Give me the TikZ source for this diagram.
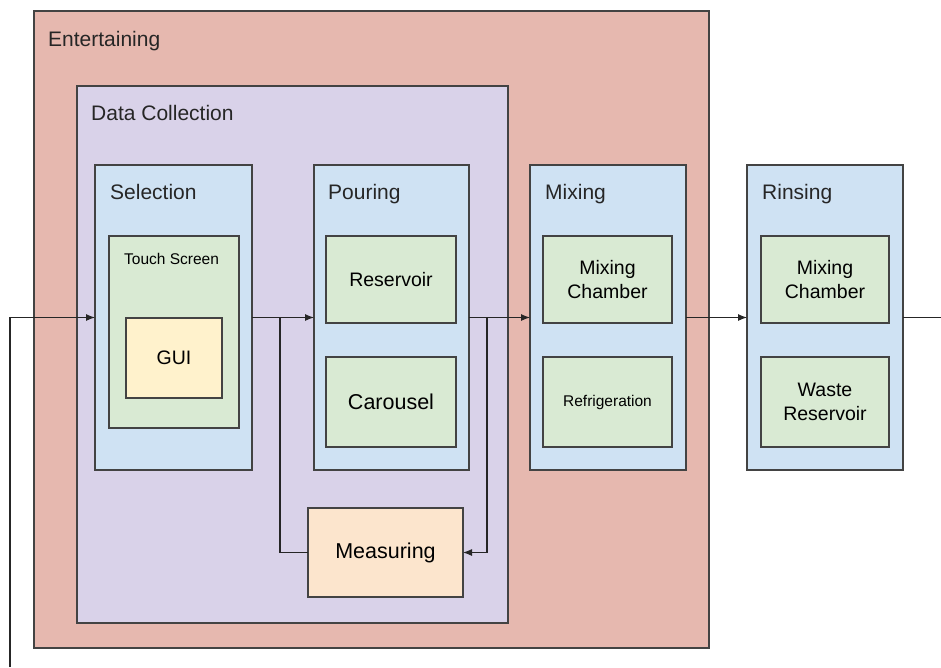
\documentclass[tikz,border=0pt]{standalone}
\usepackage{fontspec}
\setmainfont{Liberation Sans}
\usetikzlibrary{arrows.meta}
\definecolor{edgec}{HTML}{434343}
\definecolor{redc}{HTML}{E6B8AF}
\definecolor{purplec}{HTML}{D9D2E9}
\definecolor{bluec}{HTML}{CFE2F3}
\definecolor{greenc}{HTML}{D9EAD3}
\definecolor{yellowc}{HTML}{FFF2CC}
\definecolor{orangec}{HTML}{FCE5CD}
\tikzset{
  box/.style={draw=edgec, line width=1.2pt, inner sep=0pt, outer sep=0pt, align=center},
  title/.style={anchor=base west, inner sep=0pt, font=\fontsize{21}{25}\selectfont, text=black!85},
  flow/.style={draw=black!85, line width=1.1pt},
  tip/.style={-{Latex[length=9pt,width=7pt]}}
}
\begin{document}
\begin{tikzpicture}[x=1pt, y=-1pt]
\useasboundingbox (0,0) rectangle (941,667);
% outer groups
\node[box, fill=redc, minimum width=675pt, minimum height=637pt] (ent) at (371.5,329.5) {};
\node[title] at ([shift={(14pt,-35pt)}]ent.north west) {Entertaining};
\node[box, fill=purplec, minimum width=431pt, minimum height=537pt] (dc) at (292.5,354.5) {};
\node[title] at ([shift={(14pt,-34pt)}]dc.north west) {Data Collection};
% stages
\node[box, fill=bluec, minimum width=157pt, minimum height=305pt] (sel) at (173.5,317.5) {};
\node[title] at ([shift={(15pt,-34pt)}]sel.north west) {Selection};
\node[box, fill=bluec, minimum width=155pt, minimum height=305pt] (pour) at (391.5,317.5) {};
\node[title] at ([shift={(14pt,-34pt)}]pour.north west) {Pouring};
\node[box, fill=bluec, minimum width=156pt, minimum height=305pt] (mix) at (608,317.5) {};
\node[title] at ([shift={(15pt,-34pt)}]mix.north west) {Mixing};
\node[box, fill=bluec, minimum width=156pt, minimum height=305pt] (rins) at (825,317.5) {};
\node[title] at ([shift={(15pt,-34pt)}]rins.north west) {Rinsing};
% parts
\node[box, fill=greenc, minimum width=130pt, minimum height=192pt] (touch) at (174,332) {};
\node[anchor=base west, inner sep=0pt, font=\fontsize{15.5}{18}\selectfont] at ([shift={(15pt,-28pt)}]touch.north west) {Touch Screen};
\node[box, fill=yellowc, minimum width=96pt, minimum height=80pt, font=\fontsize{19.5}{23}\selectfont] (gui) at (174,358) {GUI};
\node[box, fill=greenc, minimum width=130pt, minimum height=87pt, font=\fontsize{19.5}{23}\selectfont] (res) at (391,279.5) {Reservoir};
\node[box, fill=greenc, minimum width=130pt, minimum height=90pt, font=\fontsize{21.5}{25}\selectfont] (car) at (391,402) {Carousel};
\node[box, fill=greenc, minimum width=129pt, minimum height=87pt, font=\fontsize{19.5}{24}\selectfont] (mch) at (607.5,279.5) {Mixing\\Chamber};
\node[box, fill=greenc, minimum width=129pt, minimum height=90pt, font=\fontsize{15.5}{18}\selectfont] (refr) at (607.5,402) {Refrigeration};
\node[box, fill=greenc, minimum width=128pt, minimum height=87pt, font=\fontsize{19.5}{24}\selectfont] (mch2) at (825,279.5) {Mixing\\Chamber};
\node[box, fill=greenc, minimum width=128pt, minimum height=90pt, font=\fontsize{19.5}{24}\selectfont] (waste) at (825,402) {Waste\\Reservoir};
\node[box, fill=orangec, minimum width=155pt, minimum height=89pt, font=\fontsize{21.5}{25}\selectfont] (meas) at (385.5,552.5) {Measuring};
% flow
\coordinate (feed) at (10,667);
\coordinate (split1) at (280,317.5);
\coordinate (split2) at (487,317.5);
\coordinate (out) at (941,317.5);
\draw[flow, tip] (feed) |- (sel.west);
\draw[flow, tip] (sel.east) -- (pour.west);
\draw[flow, tip] (pour.east) -- (mix.west);
\draw[flow, tip] (mix.east) -- (rins.west);
\draw[flow] (rins.east) -- (out);
\draw[flow] (split1) |- (meas.west);
\draw[flow, tip] (split2) |- (meas.east);
\end{tikzpicture}
\end{document}
